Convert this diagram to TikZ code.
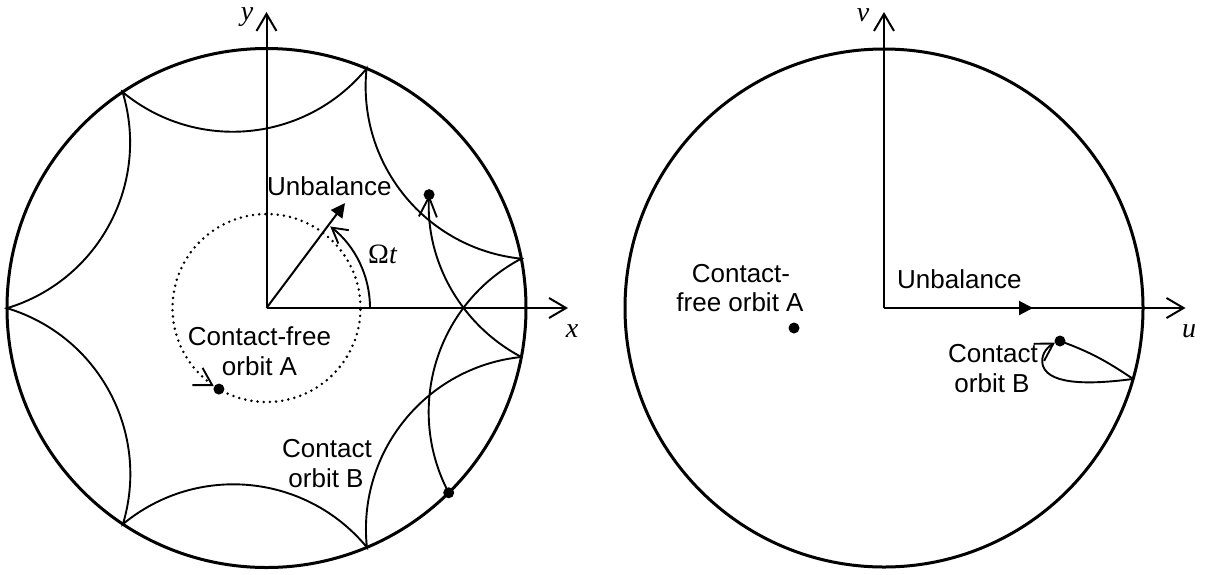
\documentclass[tikz,border=0pt]{standalone}
\usepackage{fontspec}
\setmainfont{Liberation Serif}
\newfontfamily\labelsans{Liberation Sans}
\usetikzlibrary{arrows.meta,calc}
\begin{document}
\begin{tikzpicture}[x=1pt,y=1pt,
  rim/.style={line width=3pt},
  axis/.style={line width=2pt,-{Straight Barb[length=17pt,width=20pt]}},
  orbit/.style={line width=1.9pt},
  barb/.style={-{Straight Barb[length=17pt,width=20pt]}},
  dotmark/.style={circle,fill,inner sep=0pt,minimum size=11pt},
  sans/.style={font=\labelsans\fontsize{26}{30}\selectfont,inner sep=0pt,anchor=base},
  ital/.style={font=\fontsize{28}{32}\selectfont\itshape,inner sep=0pt},
  unb/.style={line width=2pt,-{Triangle[length=14pt,width=14pt]}},
  dotted circ/.style={line width=2.8pt,line cap=round,dash pattern=on 0pt off 6.2pt}
]
\useasboundingbox (0,-574) rectangle (1207,0);

% ---------------- left panel ----------------
\coordinate (L) at (266.5,-308);
\draw[rim] (L) circle[radius=259.5];
\draw[axis] (L) -- ($(L)+(0,296)$) coordinate (ytip);
\draw[axis] (L) -- ($(L)+(301.5,0)$) coordinate (xtip);

% contact points of orbit B
\foreach \k/\a in {0/-45.4,1/10.96,2/67.32,3/123.68,4/180.04,5/236.4,6/292.76,7/349.12}
  \coordinate (c\k) at ($(L)+(\a:259.5)$);

\draw[orbit] (c0) to[bend left=45] (c1) to[bend left=45] (c2) to[bend left=45] (c3)
  to[bend left=45] (c4) to[bend left=45] (c5) to[bend left=45] (c6) to[bend left=45] (c7);
\draw[orbit,-{Straight Barb[length=20pt,width=18pt]}] (c7) arc[start angle=242.2,end angle=177,radius=173.3] coordinate (cE);

% contact-free orbit A
\draw[dotted circ] (L) circle[radius=94];
\coordinate (aPos) at ($(L)+(-120.4:94)$);
\draw[orbit,barb] ($(aPos)+(149.6:10)$) -- ($(aPos)+(149.6:6)$);

% unbalance and angle
\draw[unb] (L) -- ($(L)+(53.2:131)$) coordinate (utip);
\draw[orbit,-{Straight Barb[length=15pt,width=17pt]}] ($(L)+(103.5,0)$) arc[start angle=0,end angle=52,radius=103.5];

\node[dotmark] (dB0) at (c0) {};
\node[dotmark] (dBE) at (cE) {};
\node[dotmark] (dA) at (aPos) {};

\node[ital] (ylab) at (247,-17) {y};
\node[ital] (xlab) at (572,-331) {x};
\node[font=\fontsize{28}{32}\selectfont,inner sep=0pt,anchor=base west] (om) at (368,-263) {Ω\textit{t}};
\node[sans,anchor=base west] (unbL) at (267,-195) {Unbalance};
\node[sans] (aL1) at (259.5,-345) {Contact-free};
\node[sans] (aL2) at (259.5,-375) {orbit A};
\node[sans] (bL1) at (327,-457) {Contact};
\node[sans] (bL2) at (326,-487) {orbit B};

% ---------------- right panel ----------------
\coordinate (R) at (884,-308);
\draw[rim] (R) circle[radius=259];
\draw[axis] (R) -- ($(R)+(0,296)$) coordinate (vtip);
\draw[axis] (R) -- ($(R)+(301.5,0)$) coordinate (utip2);
\draw[unb] (R) -- ($(R)+(149,0)$) coordinate (rutip);

\coordinate (rBpos) at (1060,-341);
\coordinate (rBc) at ($(R)+(-15.9:259)$);
\coordinate (rBt) at (1055,-342.5);
\draw[orbit] (rBpos) to[out=-20,in=146] (rBc);
\draw[orbit,barb] (rBc) .. controls (1095,-384) and (1050,-386) .. (1043,-366)
  .. controls (1040,-356) and (1046,-348) .. (rBt);

\node[dotmark] (rA) at (794,-328) {};
\node[dotmark] (rB) at (rBpos) {};

\node[ital] (vlab) at (863,-15) {v};
\node[ital] (ulab) at (1189,-331) {u};
\node[sans,anchor=base west] (unbR) at (897,-288) {Unbalance};
\node[sans] (aR1) at (741,-282) {Contact-};
\node[sans] (aR2) at (740,-311) {free orbit A};
\node[sans] (bR1) at (993,-362) {Contact};
\node[sans] (bR2) at (992,-392) {orbit B};
\end{tikzpicture}
\end{document}
